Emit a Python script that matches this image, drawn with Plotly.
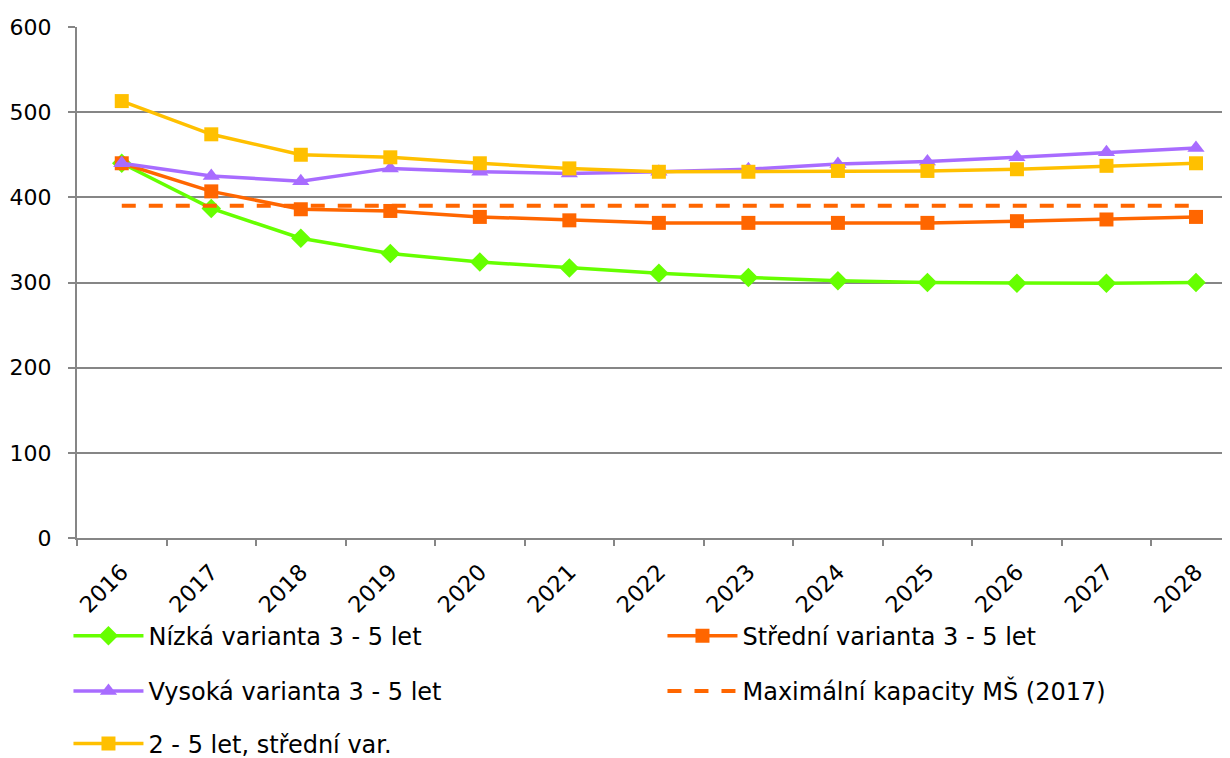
import plotly.graph_objects as go

years = ["2016", "2017", "2018", "2019", "2020", "2021", "2022",
         "2023", "2024", "2025", "2026", "2027", "2028"]
nizka = [440, 387, 352, 334, 324, 317, 311, 306, 302, 300, 299, 299, 300]
stredni = [440, 407, 386, 384, 377, 373, 370, 370, 370, 370, 372, 374, 377]
vysoka = [440, 425, 419, 434, 430, 428, 430, 433, 439, 442, 447, 453, 458]
kapacita = [390] * 13
dva_pet = [513, 474, 450, 447, 440, 434, 430, 430, 431, 431, 433, 437, 440]

names = ["Nízká varianta 3 - 5 let", "Střední varianta 3 - 5 let",
         "Vysoká varianta 3 - 5 let", "Maximální kapacity MŠ (2017)",
         "2 - 5 let, střední var."]

FONT = "DejaVu Sans"
fig = go.Figure()
fig.add_trace(go.Scatter(x=years, y=nizka, name=names[0], mode="lines+markers",
                         line=dict(color="#66FF00", width=3.5),
                         marker=dict(symbol="diamond", size=15, color="#66FF00"),
                         legend="legend"))
fig.add_trace(go.Scatter(x=years, y=stredni, name=names[1], mode="lines+markers",
                         line=dict(color="#FF6600", width=3.5),
                         marker=dict(symbol="square", size=14, color="#FF6600"),
                         legend="legend"))
fig.add_trace(go.Scatter(x=years, y=vysoka, name=names[2], mode="lines+markers",
                         line=dict(color="#A86CFF", width=3.5),
                         marker=dict(symbol="triangle-up", size=15, color="#A86CFF"),
                         legend="legend2"))
fig.add_trace(go.Scatter(x=years, y=kapacita, name=names[3], mode="lines",
                         line=dict(color="#FF6600", width=4, dash="14px,13px"),
                         legend="legend2"))
fig.add_trace(go.Scatter(x=years, y=dva_pet, name=names[4], mode="lines+markers",
                         line=dict(color="#FFC000", width=3.5),
                         marker=dict(symbol="square", size=14, color="#FFC000"),
                         legend="legend3"))

leg_common = dict(orientation="h", xanchor="left", yanchor="middle",
                  font=dict(family=FONT, size=24, color="#000000"),
                  entrywidth=509, entrywidthmode="pixels", itemwidth=70,
                  bgcolor="rgba(0,0,0,0)", traceorder="normal")

fig.update_layout(
    width=1222, height=750,
    margin=dict(l=69, r=0, t=19, b=220, autoexpand=False),
    paper_bgcolor="white", plot_bgcolor="white",
    font=dict(family=FONT, size=22, color="#000000"),
    legend=dict(x=-0.0074, y=-0.192, **leg_common),
    legend2=dict(x=-0.0074, y=-0.30, **leg_common),
    legend3=dict(x=-0.0074, y=-0.403, **leg_common),
    xaxis=dict(type="category", range=[-0.5, 12.38], tickangle=-45,
               showgrid=False, showline=True, linecolor="#868686", linewidth=2,
               ticks="outside", tickson="boundaries", ticklen=6, tickwidth=2,
               tickcolor="#868686", ticklabelstandoff=10,
               tickfont=dict(family=FONT, size=22.5)),
    yaxis=dict(range=[0, 600], dtick=100, showgrid=True, gridcolor="#868686",
               gridwidth=2, showline=True, linecolor="#868686", linewidth=2,
               ticks="outside", ticklen=7, tickwidth=2, tickcolor="#868686",
               ticklabelstandoff=12, zeroline=False,
               tickfont=dict(family=FONT, size=22)),
)

fig.write_html("out.html")
